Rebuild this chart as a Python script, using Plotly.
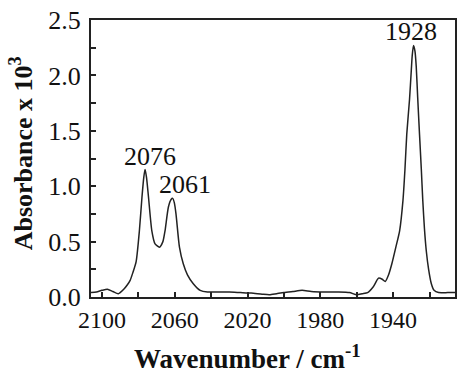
import plotly.graph_objects as go

wavenumber = [2106, 2103, 2100, 2097, 2094, 2091, 2088, 2086, 2084.5, 2083, 2081.2, 2079.4, 2078, 2077,
              2076.3, 2075.5, 2074.4, 2072.6, 2070.8, 2068.4, 2066.5, 2065.3, 2063.5, 2062, 2061.1,
              2060.2, 2059.3, 2057.4, 2055.3, 2053, 2049.8, 2046, 2042, 2036, 2030, 2024, 2018, 2012,
              2008, 2004, 2000, 1995, 1990, 1985, 1978, 1970, 1964, 1960, 1957, 1954, 1951, 1948,
              1946, 1944.3, 1942.5, 1940.7, 1938.5, 1936.4, 1934.6, 1933.5, 1932.5, 1931, 1930,
              1929.5, 1928.8, 1928, 1927.3, 1926.5, 1925.5, 1924.5, 1923.7, 1922.8, 1921.8, 1920.5,
              1919, 1917.5, 1915, 1910, 1906]
absorbance = [0.04, 0.045, 0.06, 0.07, 0.05, 0.03, 0.07, 0.11, 0.15, 0.22, 0.32, 0.60, 0.90, 1.08,
              1.15, 1.08, 0.90, 0.60, 0.48, 0.45, 0.50, 0.60, 0.81, 0.88, 0.89,
              0.85, 0.75, 0.45, 0.30, 0.20, 0.12, 0.06, 0.045, 0.045, 0.045, 0.04, 0.035, 0.025,
              0.02, 0.03, 0.04, 0.05, 0.06, 0.05, 0.045, 0.045, 0.04, 0.02, 0.03, 0.04, 0.09, 0.17,
              0.16, 0.14, 0.20, 0.30, 0.45, 0.60, 0.87, 1.15, 1.47, 1.78, 2.05,
              2.18, 2.27, 2.22, 2.08, 1.80, 1.47, 1.15, 0.87, 0.62, 0.42, 0.25,
              0.12, 0.06, 0.04, 0.04, 0.04]

peak_labels = ["2076", "2061", "1928"]
peak_x = [2076.3, 2061.1, 1928.8]
peak_y = [1.15, 0.89, 2.27]
label_xshift = [5, 12, -3]

x_ticks = [2100, 2060, 2020, 1980, 1940]

x_title = "<b>Wavenumber / cm<sup>-1</sup></b>"
y_title = "<b>Absorbance x 10<sup>3</sup></b>"

FONT = "Liberation Serif, Times New Roman, serif"

fig = go.Figure()
fig.add_trace(go.Scatter(
    x=wavenumber, y=absorbance, mode="lines",
    line=dict(color="#222222", width=1.5, shape="spline", smoothing=0.6),
    hoverinfo="skip", showlegend=False,
))

for lab, px, py, dx in zip(peak_labels, peak_x, peak_y, label_xshift):
    fig.add_annotation(x=px, y=py, text=lab, showarrow=False, xanchor="center",
                       yanchor="bottom", xshift=dx, yshift=-3,
                       font=dict(family=FONT, size=26, color="#111111"))

# axis titles as annotations (paper coords)
fig.add_annotation(xref="paper", yref="paper", x=0.431, y=-0.217, text=x_title,
                   showarrow=False, xanchor="center", yanchor="middle",
                   font=dict(family=FONT, size=27, color="#111"))
fig.add_annotation(xref="paper", yref="paper", x=-0.19, y=0.518, text=y_title,
                   showarrow=False, xanchor="center", yanchor="middle", textangle=-90,
                   font=dict(family=FONT, size=26, color="#111"))

fig.update_layout(
    width=457, height=372,
    margin=dict(l=91, r=2, t=20, b=75, autoexpand=False),
    paper_bgcolor="white", plot_bgcolor="white",
    font=dict(family=FONT, color="#111111"),
)
fig.update_xaxes(
    range=[2106, 1906], tickmode="array", tickvals=x_ticks, automargin=False,
    ticks="inside", ticklen=5, tickwidth=2, tickcolor="#222",
    minor=dict(dtick=20, tick0=2100, ticks="inside", ticklen=5, tickwidth=2, tickcolor="#222"),
    showline=True, linewidth=2, linecolor="#222", mirror=True,
    showgrid=False, zeroline=False,
    tickfont=dict(family=FONT, size=24, color="#111"),
)
fig.update_yaxes(
    range=[0, 2.5], dtick=0.5, tickformat=".1f", automargin=False,
    ticks="inside", ticklen=5, tickwidth=2, tickcolor="#222",
    minor=dict(dtick=0.25, ticks="inside", ticklen=5, tickwidth=2, tickcolor="#222"),
    showline=True, linewidth=2, linecolor="#222", mirror=True,
    showgrid=False, zeroline=False,
    tickfont=dict(family=FONT, size=26, color="#111"),
    ticklabelstandoff=3,
)

fig.write_html("out.html", config={"displayModeBar": False},
               post_script="document.body.style.margin='0';document.body.style.overflow='hidden';")
